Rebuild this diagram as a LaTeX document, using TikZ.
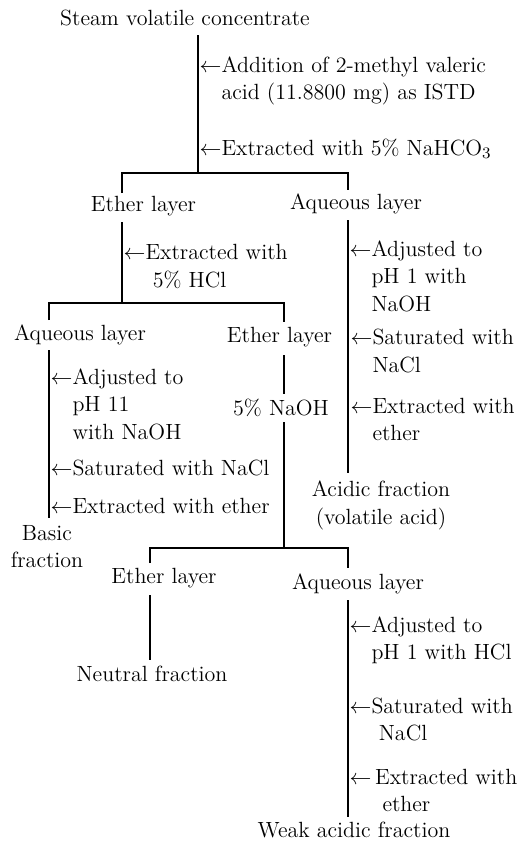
\documentclass[tikz,border=0pt]{standalone}
\begin{document}
\begin{tikzpicture}[x=0.5pt,y=-0.5pt,line width=0.6pt,
        lbl/.style={inner sep=0pt,font=\fontsize{11}{13.75}\selectfont},
        note/.style={lbl,anchor=west,align=left},
        frac/.style={lbl,align=center}]
    \useasboundingbox (0,0) rectangle (521,842);
        \node[lbl] (svc) at (185,18) {Steam volatile concentrate};
        \coordinate (s0) at (198,35);
        \coordinate (b1) at (198,173);
        \draw (s0) to (b1);
            \node[note] (add) at (199,81) {$\leftarrow$Addition of 2-methyl valeric\\\phantom{$\leftarrow$}acid (11.8800 mg) as ISTD};
            \node[note] (nahco) at (199,149) {$\leftarrow$Extracted with 5\% NaHCO$_3$};
        \coordinate (b1l) at (122,173);
        \coordinate (b1r) at (348,173);
        \coordinate (e1t) at (122,193);
        \coordinate (a1t) at (348,190);
        \draw (e1t) to (b1l) to (b1r) to (a1t);
            \node[lbl] (eth1) at (143.5,206) {Ether layer};
            \node[lbl] (aq1) at (356,204) {Aqueous layer};

        \coordinate (e1) at (122,222);
        \coordinate (b2) at (122,303);
        \draw (e1) to (b2);
            \node[note] (hcl) at (123,266.5) {$\leftarrow$Extracted with\\\phantom{$\leftarrow$}\,\,5\% HCl};
        \coordinate (b2l) at (49,303);
        \coordinate (b2r) at (284,303);
        \coordinate (a2t) at (49,320);
        \coordinate (e2t) at (284,322);
        \draw (a2t) to (b2l) to (b2r) to (e2t);
            \node[lbl] (aq2) at (80,335) {Aqueous layer};
            \node[lbl] (eth2) at (279.5,337) {Ether layer};

        \coordinate (a1) at (348,220);
        \coordinate (a1b) at (348,473);
        \draw (a1) to (a1b);
            \node[note] (adjR) at (349,276) {$\leftarrow$Adjusted to\\\phantom{$\leftarrow$}pH 1 with\\\phantom{$\leftarrow$}NaOH};
            \node[note] (satR) at (350,351) {$\leftarrow$Saturated with\\\phantom{$\leftarrow$}NaCl};
            \node[note] (extR) at (350,419.5) {$\leftarrow$Extracted with\\\phantom{$\leftarrow$}ether};
            \node[frac] (acid) at (381,505.5) {Acidic fraction\\(volatile acid)};

        \coordinate (a2) at (49,350);
        \coordinate (a2b) at (49,518);
        \draw (a2) to (a2b);
            \node[note] (adjL) at (50,404) {$\leftarrow$Adjusted to\\\phantom{$\leftarrow$}pH 11\\\phantom{$\leftarrow$}with NaOH};
            \node[note] (satL) at (50,468) {$\leftarrow$Saturated with NaCl};
            \node[note] (extL) at (50,506) {$\leftarrow$Extracted with ether};
            \node[frac] (basic) at (47,546.5) {Basic\\fraction};

        \coordinate (e2) at (284,355);
        \coordinate (b3) at (284,548);
            \node[lbl,inner ysep=2.5pt] (naoh) at (281,408) {5\% NaOH};
        \draw (e2) to (naoh.north -| e2);
        \draw (naoh.south -| b3) to (b3);
        \coordinate (b3l) at (150,548);
        \coordinate (b3r) at (348,548);
        \coordinate (e3t) at (150,563);
        \coordinate (a3t) at (348,568);
        \draw (e3t) to (b3l) to (b3r) to (a3t);
            \node[lbl] (eth3) at (164,578) {Ether layer};
            \node[lbl] (aq3) at (358,584) {Aqueous layer};

        \coordinate (e3) at (150,595);
        \coordinate (e3b) at (150,660);
        \draw (e3) to (e3b);
            \node[lbl] (neut) at (152,674) {Neutral fraction};

        \coordinate (a3) at (348,600);
        \coordinate (a3b) at (348,817);
        \draw (a3) to (a3b);
            \node[note] (adjB) at (349,640.5) {$\leftarrow$Adjusted to\\\phantom{$\leftarrow$}pH 1 with HCl};
            \node[note] (satB) at (349,719.5) {$\leftarrow$Saturated with\\\phantom{$\leftarrow$}\,\,NaCl};
            \node[note] (extB) at (349,790.5) {$\leftarrow$\,Extracted with\\\phantom{$\leftarrow$}\,\,\,ether};
            \node[lbl] (weak) at (354,830) {Weak acidic fraction};
\end{tikzpicture}
\end{document}
